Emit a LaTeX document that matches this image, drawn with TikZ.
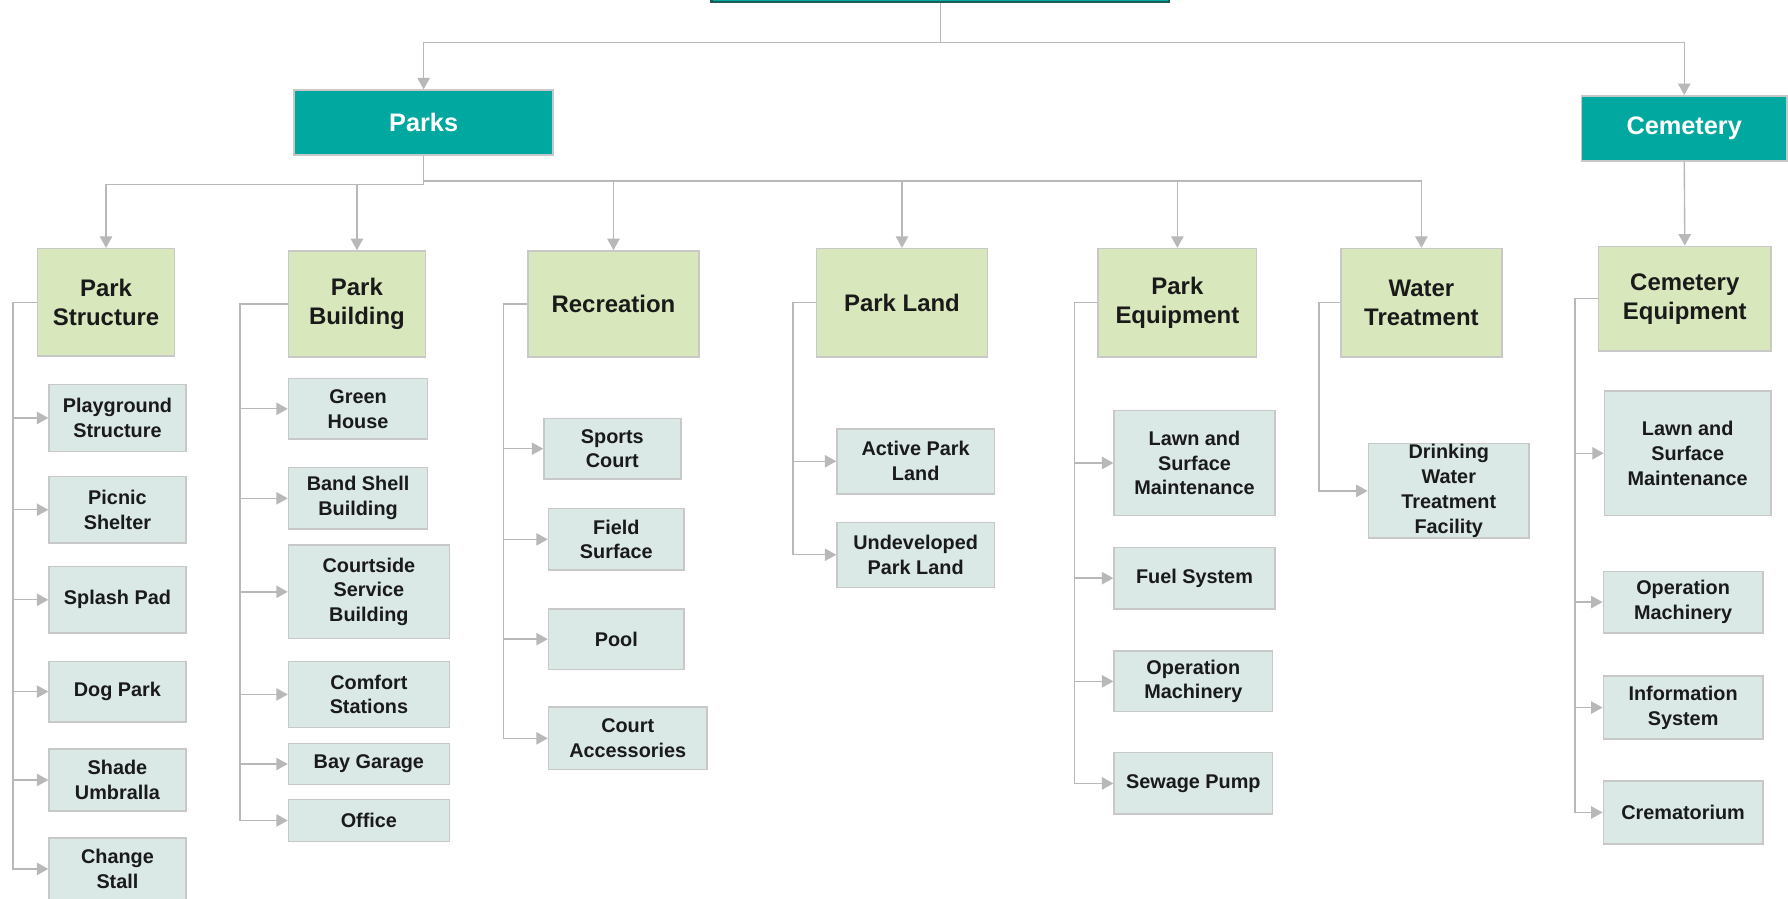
\documentclass[tikz,border=0pt]{standalone}
\usepackage{fontspec}
\setmainfont{Liberation Sans}
\usetikzlibrary{arrows.meta}
\definecolor{tealbox}{RGB}{0,168,160}
\definecolor{tealdark}{RGB}{30,92,90}
\definecolor{hdrfill}{RGB}{216,231,188}
\definecolor{subfill}{RGB}{218,232,230}
\definecolor{boxline}{RGB}{200,200,200}
\definecolor{connline}{RGB}{184,184,184}
\definecolor{txt}{RGB}{26,26,26}
\tikzset{
  topbox/.style={draw=tealdark, line width=1pt, fill=tealbox, inner sep=0pt},
  mainbox/.style={draw=boxline, line width=0.65pt, fill=tealbox, inner sep=0pt, align=center,
    text=white, font=\fontsize{11.1}{13}\selectfont\bfseries},
  hdrbox/.style={draw=boxline, line width=0.65pt, fill=hdrfill, inner sep=0pt, align=center,
    text=txt, font=\fontsize{10.5}{12.7}\selectfont\bfseries},
  subbox/.style={draw=boxline, line width=0.65pt, fill=subfill, inner sep=0pt, align=center,
    text=txt, font=\fontsize{8.7}{10.9}\selectfont\bfseries},
  conn/.style={draw=connline, line width=0.6pt,
    -{Triangle[width=5.4pt,length=5pt]}},
}
\newcommand\bx[7]{%
  \pgfmathsetmacro\bxw{(#5-#3)*0.5}%
  \pgfmathsetmacro\bxh{(#6-#4)*0.5}%
  \node[#1, minimum width=\bxw pt, minimum height=\bxh pt] (#2) at ({(#3+#5)/2},{(#4+#6)/2}) {#7};%
}
\begin{document}
\begin{tikzpicture}[x=0.5pt,y=-0.5pt]
\useasboundingbox (0,0) rectangle (1568,788);
\clip (0,0) rectangle (1568,788);
\fill[white] (0,0) rectangle (1568,788);

% top (cut off) box
\node[topbox, minimum width=200.5pt, minimum height=20pt] (top) at (824.5,-18.5) {};

% level 1
\bx{mainbox}{parks}{258}{79}{485}{136}{Parks}
\bx{mainbox}{cem}{1387}{84}{1567}{141}{Cemetery}

% level 2 headers
\bx{hdrbox}{ps}{33}{218}{153}{312}{Park\\Structure}
\bx{hdrbox}{pb}{253}{220}{373}{313}{Park\\Building}
\bx{hdrbox}{rec}{463}{220}{613}{313}{Recreation}
\bx{hdrbox}{pl}{716}{218}{866}{313}{Park Land}
\bx{hdrbox}{pe}{963}{218}{1102}{313}{Park\\Equipment}
\bx{hdrbox}{wt}{1176}{218}{1317}{313}{Water\\Treatment}
\bx{hdrbox}{ce}{1402}{216}{1553}{308}{Cemetery\\Equipment}

% Park Structure children
\bx{subbox}{ps1}{43}{337}{163}{396}{Playground\\Structure}
\bx{subbox}{ps2}{43}{418}{163}{476}{Picnic\\Shelter}
\bx{subbox}{ps3}{43}{497}{163}{555}{Splash Pad}
\bx{subbox}{ps4}{43}{580}{163}{633}{Dog Park}
\bx{subbox}{ps5}{43}{657}{163}{711}{Shade\\Umbralla}
\bx{subbox}{ps6}{43}{735}{163}{789}{Change\\Stall}

% Park Building children
\bx{subbox}{pb1}{253}{332}{375}{385}{Green\\House}
\bx{subbox}{pb2}{253}{410}{375}{464}{Band Shell\\Building}
\bx{subbox}{pb3}{253}{478}{394}{560}{Courtside\\Service\\Building}
\bx{subbox}{pb4}{253}{580}{394}{638}{Comfort\\Stations}
\bx{subbox}{pb5}{253}{652}{394}{688}{Bay Garage}
\bx{subbox}{pb6}{253}{701}{394}{738}{Office}

% Recreation children
\bx{subbox}{r1}{477}{367}{597}{420}{Sports\\Court}
\bx{subbox}{r2}{481}{446}{600}{500}{Field\\Surface}
\bx{subbox}{r3}{481}{534}{600}{587}{Pool}
\bx{subbox}{r4}{481}{620}{620}{675}{Court\\Accessories}

% Park Land children
\bx{subbox}{l1}{734}{376}{872}{433}{Active Park\\Land}
\bx{subbox}{l2}{734}{458}{872}{515}{Undeveloped\\Park Land}

% Park Equipment children
\bx{subbox}{e1}{977}{360}{1118}{452}{Lawn and\\Surface\\Maintenance}
\bx{subbox}{e2}{977}{480}{1118}{534}{Fuel System}
\bx{subbox}{e3}{977}{571}{1116}{624}{Operation\\Machinery}
\bx{subbox}{e4}{977}{660}{1116}{714}{Sewage Pump}

% Water Treatment child
\bx{subbox}{w1}{1200}{389}{1341}{472}{Drinking\\Water\\Treatment\\Facility}

% Cemetery Equipment children
\bx{subbox}{c1}{1407}{343}{1553}{452}{Lawn and\\Surface\\Maintenance}
\bx{subbox}{c2}{1406}{501}{1546}{555}{Operation\\Machinery}
\bx{subbox}{c3}{1406}{593}{1546}{648}{Information\\System}
\bx{subbox}{c4}{1406}{685}{1546}{740}{Crematorium}

% connectors: top level
\draw[conn] (top.south) -- ++(0,35) -| (parks.north);
\draw[conn] (top.south) -- ++(0,35) -| (cem.north);

% Parks to headers
\draw[conn] (parks.south) -- ++(0,25) -| (ps.north);
\draw[conn] (parks.south) -- ++(0,25) -| (pb.north);
\draw[conn] (parks.south) -- ++(0,22) -| (rec.north);
\draw[conn] (parks.south) -- ++(0,22) -| (pl.north);
\draw[conn] (parks.south) -- ++(0,22) -| (pe.north);
\draw[conn] (parks.south) -- ++(0,22) -| (wt.north);
\draw[conn] (cem.south) -- (ce.north);

% column branches
\foreach \c in {ps1,ps2,ps3,ps4,ps5,ps6}
  \draw[conn] (ps.west) -- ++(-21,0) |- (\c.west);
\foreach \c in {pb1,pb2,pb3,pb4,pb5,pb6}
  \draw[conn] (pb.west) -- ++(-42,0) |- (\c.west);
\foreach \c in {r1,r2,r3,r4}
  \draw[conn] (rec.west) -- ++(-21,0) |- (\c.west);
\foreach \c in {l1,l2}
  \draw[conn] (pl.west) -- ++(-20,0) |- (\c.west);
\foreach \c in {e1,e2,e3,e4}
  \draw[conn] (pe.west) -- ++(-20,0) |- (\c.west);
\draw[conn] (wt.west) -- ++(-18.5,0) |- (w1.west);
\foreach \c in {c1,c2,c3,c4}
  \draw[conn] (ce.west) -- ++(-20,0) |- (\c.west);
\end{tikzpicture}
\end{document}
